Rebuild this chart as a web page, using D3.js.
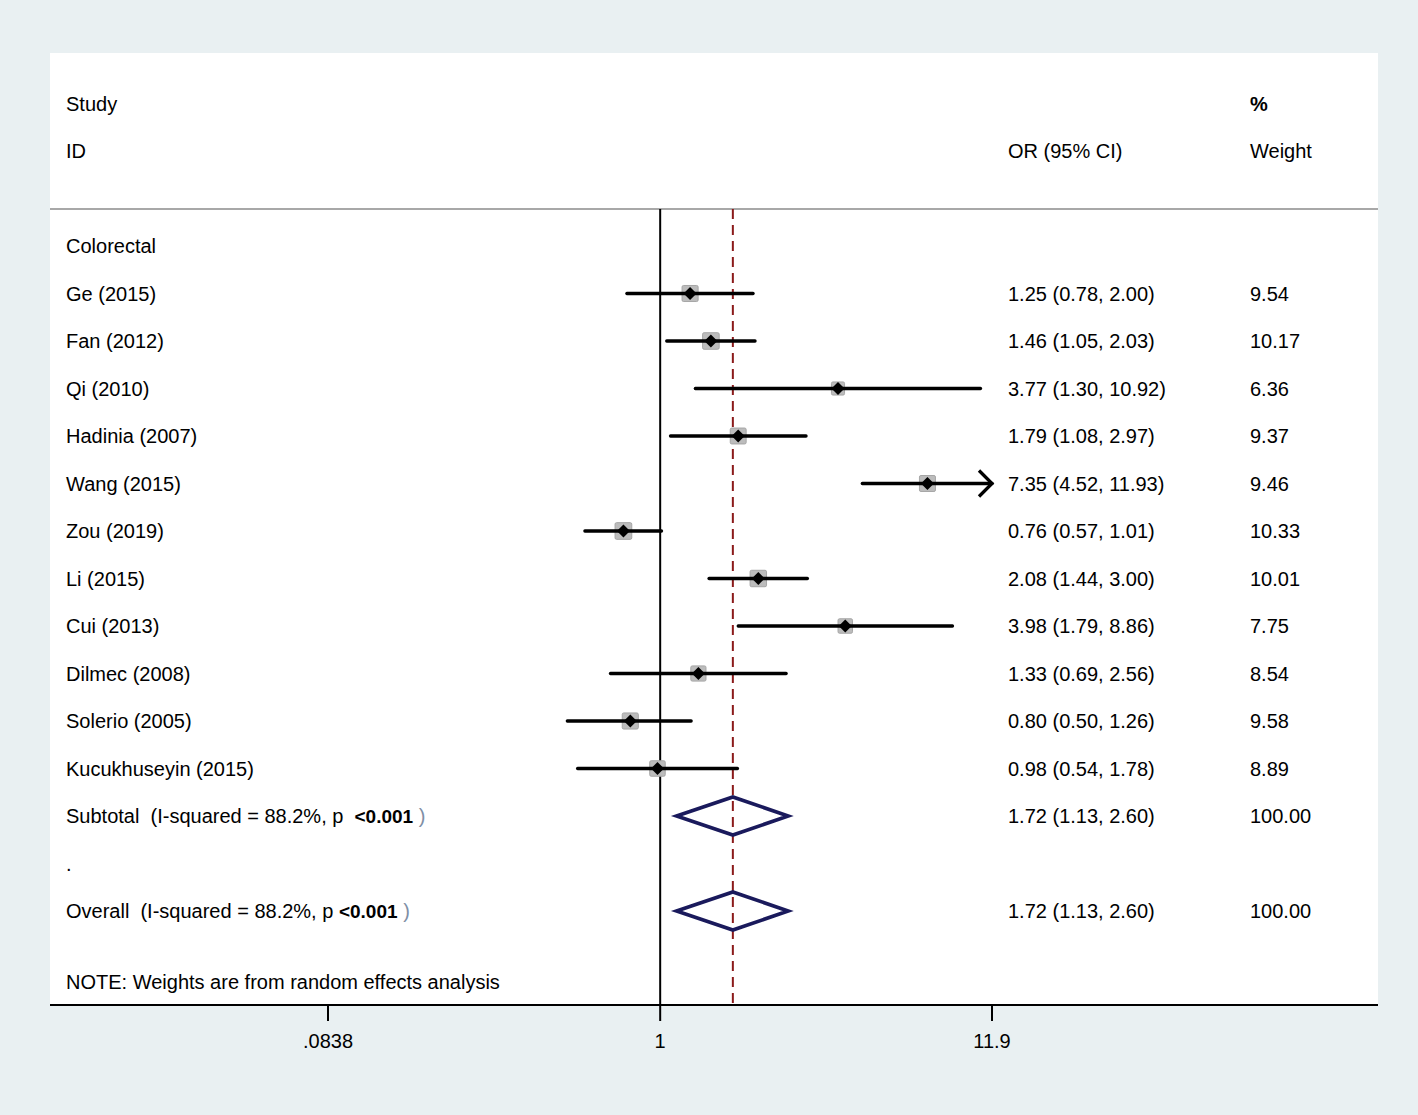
<!DOCTYPE html>
<html><head><meta charset="utf-8">
<script src="https://cdn.jsdelivr.net/npm/d3@7"></script>
<style>
html,body{margin:0;padding:0;background:#e9f0f2;}
svg{display:block;font-family:"Liberation Sans",Arial,sans-serif;}
</style></head>
<body>
<svg id="chart" width="1418" height="1115"></svg>
<script>
const studies = ["Ge (2015)","Fan (2012)","Qi (2010)","Hadinia (2007)","Wang (2015)","Zou (2019)","Li (2015)","Cui (2013)","Dilmec (2008)","Solerio (2005)","Kucukhuseyin (2015)"];
const orValues = [1.25,1.46,3.77,1.79,7.35,0.76,2.08,3.98,1.33,0.80,0.98];
const lowerCI = [0.78,1.05,1.30,1.08,4.52,0.57,1.44,1.79,0.69,0.50,0.54];
const upperCI = [2.00,2.03,10.92,2.97,11.93,1.01,3.00,8.86,2.56,1.26,1.78];
const weights = [9.54,10.17,6.36,9.37,9.46,10.33,10.01,7.75,8.54,9.58,8.89];
const pooledOR = 1.72, pooledLow = 1.13, pooledHigh = 2.60, pooledWeight = 100.00;
const tickValues = [0.0838, 1, 11.9];
const tickLabels = [".0838", "1", "11.9"];
const groupLabel = "Colorectal";
const i2 = "88.2%";

const svg = d3.select("#chart");
const W = 1418, H = 1115;
const panel = {x0:50, x1:1378, y0:53, y1:1005};
const x = d3.scaleLog().domain([0.0838, 11.9]).range([328, 992]);
const y = d3.scaleLinear().domain([0, 14]).range([246, 911]); // row index -> center
const fs = 20;
const colOR = 1008, colW = 1250, colL = 66;

svg.append("rect").attr("x",0).attr("y",0).attr("width",W).attr("height",H).attr("fill","#e9f0f2");
svg.append("rect").attr("x",panel.x0).attr("y",panel.y0).attr("width",panel.x1-panel.x0).attr("height",panel.y1-panel.y0).attr("fill","#fff");

function txt(xp, yp, s, opts={}) {
  const t = svg.append("text").attr("x",xp).attr("y",yp).attr("dominant-baseline","central")
    .attr("font-size",opts.size||fs).attr("fill",opts.fill||"#000");
  if (opts.weight) t.attr("font-weight",opts.weight);
  if (opts.anchor) t.attr("text-anchor",opts.anchor);
  if (s !== null) t.text(s);
  return t;
}

// headers
txt(colL, y(-3), "Study");
txt(colL, y(-2), "ID");
txt(colOR, y(-2), "OR (95% CI)");
txt(colW, y(-3), "%", {weight:"bold"});
txt(colW, y(-2), "Weight");

// header rule
svg.append("line").attr("x1",panel.x0).attr("x2",panel.x1).attr("y1",209).attr("y2",209)
  .attr("stroke","#a8a8a8").attr("stroke-width",2);

// null line
svg.append("line").attr("x1",x(1)).attr("x2",x(1)).attr("y1",209).attr("y2",panel.y1)
  .attr("stroke","#000").attr("stroke-width",2);
// pooled dashed line
svg.append("line").attr("x1",x(pooledOR)).attr("x2",x(pooledOR)).attr("y1",209).attr("y2",panel.y1)
  .attr("stroke","#8b1a1a").attr("stroke-width",2).attr("stroke-dasharray","10,6");

txt(colL, y(0), groupLabel);

const maxX = x.domain()[1];
studies.forEach((s,i) => {
  const yc = y(i+1);
  txt(colL, yc, s);
  txt(colOR, yc, `${orValues[i].toFixed(2)} (${lowerCI[i].toFixed(2)}, ${upperCI[i].toFixed(2)})`);
  txt(colW, yc, weights[i].toFixed(2));
  // square
  const side = 5.2*Math.sqrt(weights[i]);
  const cx = x(orValues[i]);
  svg.append("rect").attr("x",cx-side/2).attr("y",yc-side/2).attr("width",side).attr("height",side)
    .attr("fill","#bcbcbc").attr("stroke","#a6a6a6").attr("stroke-width",1).attr("rx",1.5);
  // CI line
  const truncated = upperCI[i] > maxX;
  const xr = truncated ? x(maxX) : x(upperCI[i]);
  svg.append("line").attr("x1",x(lowerCI[i])).attr("x2",xr).attr("y1",yc).attr("y2",yc)
    .attr("stroke","#000").attr("stroke-width",3.3).attr("stroke-linecap","round");
  if (truncated) {
    svg.append("path").attr("d",`M${xr-13},${yc-13} L${xr},${yc} L${xr-13},${yc+13}`)
      .attr("fill","none").attr("stroke","#000").attr("stroke-width",3.3);
  }
  // point diamond
  const d = 6.5;
  svg.append("path").attr("d",`M${cx-d},${yc} L${cx},${yc-d} L${cx+d},${yc} L${cx},${yc+d} Z`).attr("fill","#000");
});

function pooledRow(idx, label, gap) {
  const yc = y(idx);
  const t = txt(colL, yc, null);
  t.append("tspan").text(label + `\u00a0\u00a0(I-squared = ${i2}, p` + gap);
  t.append("tspan").attr("font-weight","bold").attr("font-size",19).text("<0.001");
  t.append("tspan").attr("fill","#7f8fa6").text("\u00a0)");
  txt(colOR, yc, `${pooledOR.toFixed(2)} (${pooledLow.toFixed(2)}, ${pooledHigh.toFixed(2)})`);
  txt(colW, yc, pooledWeight.toFixed(2));
  const h = 19;
  svg.append("path").attr("d",`M${x(pooledLow)},${yc} L${x(pooledOR)},${yc-h} L${x(pooledHigh)},${yc} L${x(pooledOR)},${yc+h} Z`)
    .attr("fill","none").attr("stroke","#1a1a5c").attr("stroke-width",3.6).attr("stroke-linejoin","miter");
}
pooledRow(studies.length+1, "Subtotal", "\u00a0\u00a0");
txt(colL, y(13), ".");
pooledRow(14, "Overall", "\u00a0");
txt(colL, y(15.5), "NOTE: Weights are from random effects analysis");

// axis
svg.append("line").attr("x1",panel.x0).attr("x2",panel.x1).attr("y1",panel.y1).attr("y2",panel.y1)
  .attr("stroke","#000").attr("stroke-width",2);
tickValues.forEach((v,i) => {
  svg.append("line").attr("x1",x(v)).attr("x2",x(v)).attr("y1",panel.y1).attr("y2",panel.y1+16)
    .attr("stroke","#000").attr("stroke-width",2);
  txt(x(v), 1041, tickLabels[i], {anchor:"middle"});
});
</script>
</body></html>
